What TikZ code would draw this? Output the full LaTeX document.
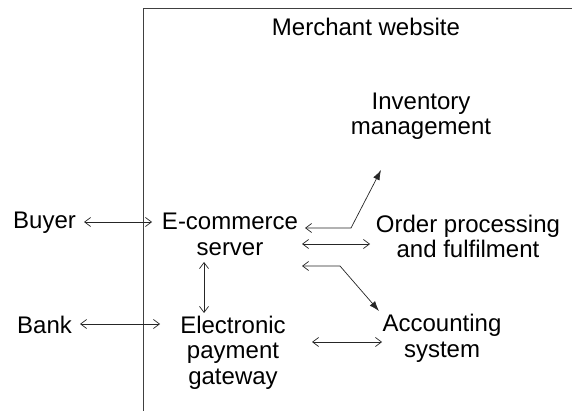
\documentclass[tikz,border=0pt]{standalone}
\usepackage{fontspec}
\setmainfont{Liberation Sans}
\usetikzlibrary{arrows.meta}
\begin{document}
\begin{tikzpicture}[x=1pt,y=-1pt,
  lbl/.style={font=\fontsize{24}{25.5}\selectfont, align=center, inner sep=0pt, anchor=base},
  conn/.style={line width=0.7pt, draw=black!85},
  opentip/.tip={Straight Barb[length=6pt,width=9pt,line width=0.7pt]},
  filltip/.tip={Latex[length=10pt,width=7pt]},
  dbl/.style={conn, opentip-opentip},
  frame/.style={line width=0.8pt, draw=black!75}]
\useasboundingbox (0,0) rectangle (572,411);
% frame of merchant website
\coordinate (ftr) at (572,8);
\coordinate (ftl) at (143,8);
\coordinate (fbl) at (143,411);
\draw[frame] (ftr) -- (ftl) -- (fbl);
% labels (base = baseline of last line)
\node[lbl] (merchant) at (366,36) {Merchant website};
\node[lbl, anchor=base west] (buyer) at (13,229) {Buyer};
\node[lbl, anchor=base west] (bank) at (17,333) {Bank};
\node[lbl] (ecom) at (230,255) {E-commerce\\server};
\node[lbl] (inv) at (421,135) {Inventory\\management};
\node[lbl] (order) at (468,258) {Order processing\\and fulfilment};
\node[lbl] (epg) at (233,384) {Electronic\\payment\\gateway};
\node[lbl] (acc) at (442,357) {Accounting\\system};
% connector end points
\coordinate (b1) at (84,222);  \coordinate (b2) at (152,222);
\coordinate (k1) at (80,324);  \coordinate (k2) at (160,324);
\coordinate (v1) at (204,262); \coordinate (v2) at (204,313);
\coordinate (i1) at (305,228); \coordinate (i2) at (351,228); \coordinate (i3) at (381,170);
\coordinate (o1) at (302,244); \coordinate (o2) at (370,244);
\coordinate (a1) at (302,266); \coordinate (a2) at (340,266); \coordinate (a3) at (379,311);
\coordinate (e1) at (312,342); \coordinate (e2) at (382,342);
% connectors
\draw[dbl] (b1) -- (b2);
\draw[dbl] (k1) -- (k2);
\draw[dbl] (v1) -- (v2);
\draw[dbl] (o1) -- (o2);
\draw[dbl] (e1) -- (e2);
\draw[conn, opentip-filltip] (i1) -- (i2) -- (i3);
\draw[conn, opentip-filltip] (a1) -- (a2) -- (a3);
\end{tikzpicture}
\end{document}
